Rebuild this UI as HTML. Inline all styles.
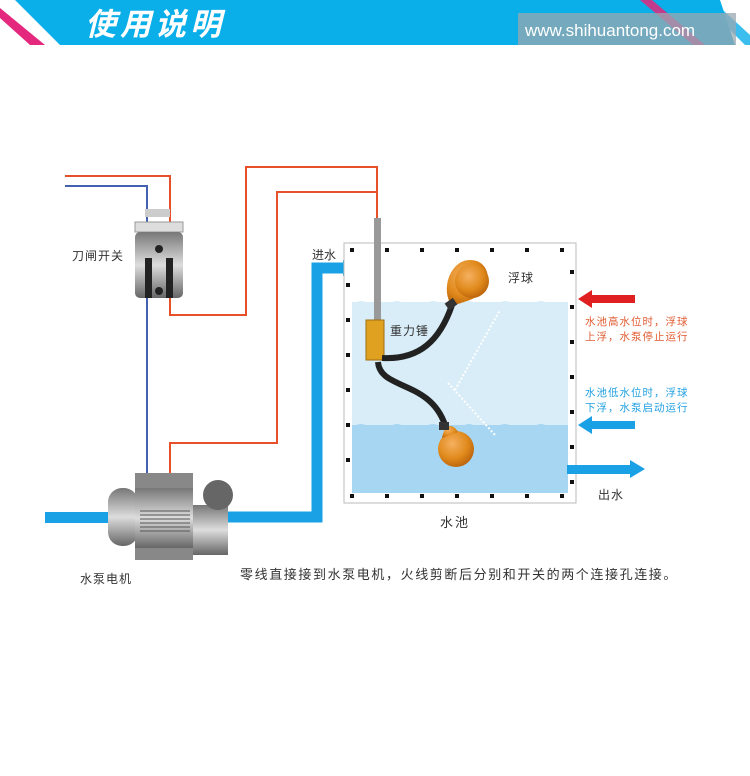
<!DOCTYPE html>
<html><head><meta charset="utf-8"><style>
body{margin:0;background:#fff;width:750px;height:771px;overflow:hidden}
svg text{font-family:"Liberation Sans","Noto Sans CJK SC",sans-serif}
</style></head><body>
<svg width="750" height="771" viewBox="0 0 750 771" xmlns="http://www.w3.org/2000/svg">
<defs>
<linearGradient id="pg" x1="0" y1="0" x2="0" y2="1"><stop offset="0" stop-color="#777"/><stop offset="0.5" stop-color="#ddd"/><stop offset="1" stop-color="#666"/></linearGradient>
<radialGradient id="ball" cx="0.4" cy="0.35" r="0.7"><stop offset="0" stop-color="#f5b060"/><stop offset="0.6" stop-color="#e08a1c"/><stop offset="1" stop-color="#b8600a"/></radialGradient>
</defs>
<!-- header -->
<polygon points="15,0 720,0 735,45 60,45" fill="#0aaee8"/>
<polygon points="0,8 0,18 30,45 45,45" fill="#e3287e"/>
<polygon points="640,0 652,0 705,45 693,45" fill="#e3287e" opacity="0.85"/>
<polygon points="668,0 680,0 732,45 720,45" fill="#0aaee8" opacity="0.9"/>
<polygon points="700,0 712,0 750,35 750,45 745,45" fill="#0aaee8" opacity="0.8"/>
<rect x="518" y="13" width="218" height="32" fill="#9aa8b0" opacity="0.75"/>
<text x="85" y="35" font-size="31" font-style="italic" fill="#fff" font-weight="bold" letter-spacing="4">使用说明</text>
<text x="525" y="36" font-size="17" fill="#fff">www.shihuantong.com</text>

<!-- wires -->
<polyline points="65,176 170,176 170,223" fill="none" stroke="#e8502a" stroke-width="2"/>
<polyline points="65,186 147,186 147,473" fill="none" stroke="#4460b0" stroke-width="2"/>
<polyline points="170,298 170,315 246,315 246,167 377,167 377,218" fill="none" stroke="#e8502a" stroke-width="2"/>
<polyline points="170,473 170,443 277,443 277,192 377,192" fill="none" stroke="#e8502a" stroke-width="2"/>

<!-- switch -->
<rect x="145" y="209" width="25" height="8" fill="#ccc"/>
<rect x="135" y="222" width="48" height="10" fill="#ddd" stroke="#999"/>
<rect x="135" y="232" width="48" height="66" rx="5" fill="url(#pg)"/>
<rect x="145" y="258" width="7" height="40" fill="#222"/>
<rect x="166" y="258" width="7" height="40" fill="#222"/>
<circle cx="159" cy="249" r="4" fill="#222"/><circle cx="159" cy="291" r="4" fill="#222"/>
<text x="72" y="260" font-size="12" fill="#333" letter-spacing="1">刀闸开关</text>

<!-- pump pipes -->
<rect x="45" y="512" width="65" height="11" fill="#1aa0e4"/>
<polyline points="228,517 317,517 317,268 345,268" fill="none" stroke="#1aa0e4" stroke-width="11"/>
<polygon points="343,260 355,268 343,276" fill="#1aa0e4"/>
<text x="312" y="259" font-size="12" fill="#333">进水</text>
<!-- pump -->
<rect x="108" y="488" width="30" height="58" rx="14" fill="url(#pg)"/>
<rect x="135" y="473" width="58" height="87" fill="#888"/>
<rect x="135" y="488" width="58" height="60" fill="url(#pg)"/>
<g stroke="#555" stroke-width="1"><line x1="140" y1="511" x2="190" y2="511"/><line x1="140" y1="515" x2="190" y2="515"/><line x1="140" y1="519" x2="190" y2="519"/><line x1="140" y1="523" x2="190" y2="523"/><line x1="140" y1="527" x2="190" y2="527"/><line x1="140" y1="531" x2="190" y2="531"/></g>
<rect x="193" y="505" width="35" height="50" fill="url(#pg)"/>
<circle cx="218" cy="495" r="15" fill="#666"/>
<text x="80" y="583" font-size="12" fill="#333" letter-spacing="1">水泵电机</text>

<!-- tank -->
<rect x="344" y="243" width="232" height="260" fill="#fff" stroke="#bbb"/>
<rect x="352" y="302" width="216" height="124" fill="#d8edf8"/>
<rect x="352" y="425" width="216" height="68" fill="#a6d6f2"/>
<path d="M352,305 q9,-8 18,0 t18,0 t18,0 t18,0 t18,0 t18,0 t18,0 t18,0 t18,0 t18,0 t18,0 t18,0" fill="#d8edf8"/>
<path d="M352,428 q9,-8 18,0 t18,0 t18,0 t18,0 t18,0 t18,0 t18,0 t18,0 t18,0 t18,0 t18,0 t18,0" fill="#a6d6f2"/>
<g fill="#111">
<rect x="350" y="248" width="4" height="4"/><rect x="385" y="248" width="4" height="4"/><rect x="420" y="248" width="4" height="4"/><rect x="455" y="248" width="4" height="4"/><rect x="490" y="248" width="4" height="4"/><rect x="525" y="248" width="4" height="4"/><rect x="560" y="248" width="4" height="4"/>
<rect x="350" y="494" width="4" height="4"/><rect x="385" y="494" width="4" height="4"/><rect x="420" y="494" width="4" height="4"/><rect x="455" y="494" width="4" height="4"/><rect x="490" y="494" width="4" height="4"/><rect x="525" y="494" width="4" height="4"/><rect x="560" y="494" width="4" height="4"/>
<rect x="346" y="283" width="4" height="4"/><rect x="346" y="318" width="4" height="4"/><rect x="346" y="353" width="4" height="4"/><rect x="346" y="388" width="4" height="4"/><rect x="346" y="423" width="4" height="4"/><rect x="346" y="458" width="4" height="4"/>
<rect x="570" y="270" width="4" height="4"/><rect x="570" y="305" width="4" height="4"/><rect x="570" y="340" width="4" height="4"/><rect x="570" y="375" width="4" height="4"/><rect x="570" y="410" width="4" height="4"/><rect x="570" y="445" width="4" height="4"/><rect x="570" y="480" width="4" height="4"/>
</g>
<!-- pole and weight -->
<rect x="374" y="218" width="7" height="103" fill="#999"/>
<rect x="366" y="320" width="18" height="40" fill="#e0a020" stroke="#a07010"/>
<path d="M382,358 C420,360 440,340 452,305" fill="none" stroke="#222" stroke-width="6"/>
<path d="M378,362 C380,390 430,380 445,425" fill="none" stroke="#222" stroke-width="6"/>
<path d="M452,306 C440,290 450,260 470,260 C492,260 495,290 470,300 Z" fill="url(#ball)"/>
<circle cx="472" cy="281" r="17" fill="url(#ball)"/>
<rect x="446" y="300" width="10" height="8" fill="#333" transform="rotate(-35 451 304)"/>
<circle cx="456" cy="449" r="18" fill="url(#ball)"/>
<path d="M442,438 C444,425 452,422 458,432 Z" fill="url(#ball)"/>
<rect x="439" y="422" width="10" height="8" fill="#333"/>
<line x1="455" y1="390" x2="500" y2="310" stroke="#fff" stroke-width="2" stroke-dasharray="2,2"/>
<line x1="448" y1="383" x2="495" y2="435" stroke="#fff" stroke-width="2" stroke-dasharray="2,2"/>
<text x="508" y="282" font-size="12" fill="#333" letter-spacing="1">浮球</text>
<text x="390" y="335" font-size="12" fill="#333" letter-spacing="1">重力锤</text>
<text x="440" y="527" font-size="13" fill="#333" letter-spacing="2">水池</text>
<!-- right arrows -->
<rect x="590" y="295" width="45" height="8" fill="#e02020"/><polygon points="578,299 592,290 592,308" fill="#e02020"/>
<rect x="590" y="421" width="45" height="8" fill="#1aa0e4"/><polygon points="578,425 592,416 592,434" fill="#1aa0e4"/>
<rect x="567" y="465" width="65" height="9" fill="#1aa0e4"/><polygon points="645,469 630,460 630,478" fill="#1aa0e4"/>
<text x="585" y="325" font-size="10.5" fill="#e05a30" letter-spacing="1">水池高水位时，浮球</text>
<text x="585" y="340" font-size="10.5" fill="#e05a30" letter-spacing="1">上浮，水泵停止运行</text>
<text x="585" y="396" font-size="10.5" fill="#20a0e0" letter-spacing="1">水池低水位时，浮球</text>
<text x="585" y="411" font-size="10.5" fill="#20a0e0" letter-spacing="1">下浮，水泵启动运行</text>
<text x="598" y="499" font-size="12" fill="#333" letter-spacing="1">出水</text>
<text x="240" y="579" font-size="13" fill="#333" letter-spacing="1.6">零线直接接到水泵电机，火线剪断后分别和开关的两个连接孔连接。</text>
</svg>
</body></html>
